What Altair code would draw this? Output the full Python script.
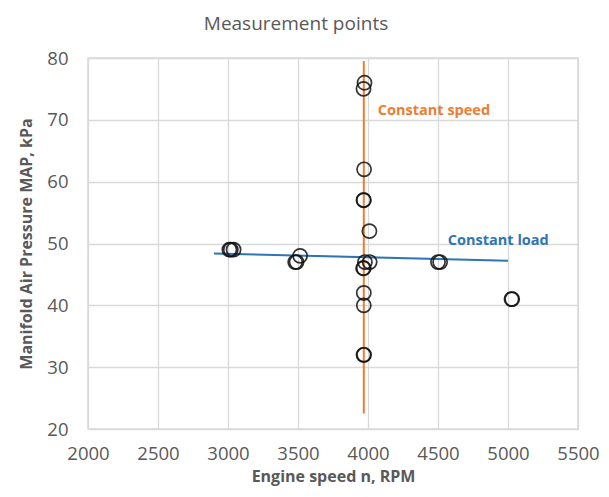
import altair as alt
import pandas as pd

# Measurement points (engine speed, manifold pressure)
rpm = [3975, 3968, 3972, 3970, 3968, 4010, 3010, 3040, 3020, 3490, 3480, 3515,
       3978, 4012, 3965, 3970, 3970, 3970, 3968, 3972, 4500, 4515, 5025, 5030]
map_kpa = [76, 75, 62, 57, 57, 52, 49, 49, 49, 47, 47, 48,
           47, 47, 46, 46, 42, 40, 32, 32, 47, 47, 41, 41]

# Reference lines
speed_line_rpm = [3970, 3970]
speed_line_map = [79.5, 22.5]
load_line_rpm = [2900, 5000]
load_line_map = [48.4, 47.2]

# Annotations
ann_text = ["Constant speed", "Constant load"]
ann_rpm = [4070, 4570]
ann_map = [71.4, 50.4]
ann_color = ["#ED7D31", "#2E75B6"]

FONT = "Open Sans"
GRAY = "#595959"

pts = pd.DataFrame({"rpm": rpm, "map": map_kpa})
speed = pd.DataFrame({"rpm": speed_line_rpm, "map": speed_line_map})
load = pd.DataFrame({"rpm": load_line_rpm, "map": load_line_map})
ann = pd.DataFrame({"t": ann_text, "rpm": ann_rpm, "map": ann_map, "c": ann_color})

xs = alt.Scale(domain=[2000, 5500], nice=False, zero=False)
ys = alt.Scale(domain=[20, 80], nice=False, zero=False)

xax = alt.Axis(values=list(range(2000, 5501, 500)), title="Engine speed n, RPM",
               grid=True, gridColor="#d9d9d9", gridWidth=1.3, domain=False, ticks=False,
               labelFontSize=18.5, labelColor=GRAY, labelFont=FONT, labelPadding=15,
               labelFlush=False, labelOverlap=False,
               titleFontSize=16, titleColor=GRAY, titleFont=FONT, titleFontWeight="bold",
               titlePadding=6, format="d")
yax = alt.Axis(values=list(range(20, 81, 10)), title="Manifold Air Pressure MAP, kPa",
               grid=True, gridColor="#d9d9d9", gridWidth=1.3, domain=False, ticks=False,
               labelFontSize=18.5, labelColor=GRAY, labelFont=FONT, labelPadding=20,
               labelFlush=False, labelOverlap=False,
               titleFontSize=16, titleColor=GRAY, titleFont=FONT, titleFontWeight="bold",
               titlePadding=12)

points = alt.Chart(pts).mark_point(shape="circle", filled=False, size=200,
                                   strokeWidth=1.7, color="#111111", opacity=0.85).encode(
    x=alt.X("rpm:Q", scale=xs, axis=xax),
    y=alt.Y("map:Q", scale=ys, axis=yax),
)

speed_line = alt.Chart(speed).mark_line(color="#ED7D31", strokeWidth=2).encode(
    x=alt.X("rpm:Q", scale=xs), y=alt.Y("map:Q", scale=ys))
load_line = alt.Chart(load).mark_line(color="#2E75B6", strokeWidth=2).encode(
    x=alt.X("rpm:Q", scale=xs), y=alt.Y("map:Q", scale=ys))

labels = alt.Chart(ann).mark_text(align="left", baseline="middle", fontSize=14.5,
                                  fontWeight="bold", font=FONT).encode(
    x=alt.X("rpm:Q", scale=xs), y=alt.Y("map:Q", scale=ys),
    text="t:N", color=alt.Color("c:N", scale=None))

chart = alt.layer(speed_line, load_line, points, labels).properties(
    width=490, height=371,
    autosize=alt.AutoSizeParams(type="none"),
    padding={"left": 80, "top": 50, "right": 23, "bottom": 60},
    title=alt.Title("Measurement points", fontSize=19, color=GRAY, font=FONT,
                    fontWeight="normal", offset=15, dx=-37),
).configure_view(stroke="#d9d9d9", strokeWidth=1.5)

chart.save("out.html", embed_options={"renderer": "svg", "actions": False})
